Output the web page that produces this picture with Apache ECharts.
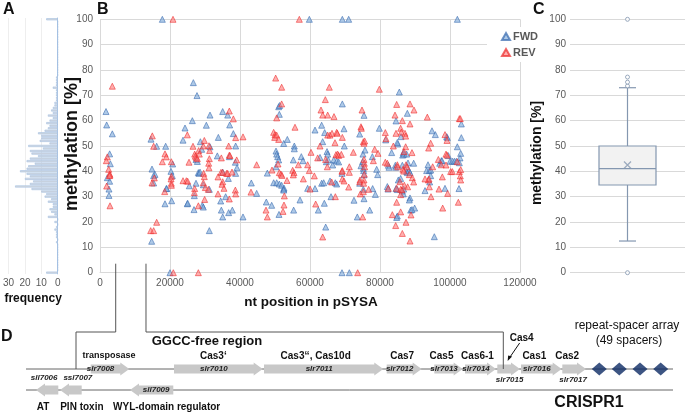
<!DOCTYPE html>
<html><head><meta charset="utf-8">
<script src="https://cdn.jsdelivr.net/npm/echarts/dist/echarts.min.js"></script>
<style>html,body{margin:0;padding:0;background:#fff}#c{width:685px;height:412px}</style>
</head><body><div id="c"></div>
<script>
// ---------- DATA ----------
// Panel A: histogram of methylation (1% bins, 0..100)
const histBins = Array.from({length:101},(_,i)=>String(i));
const histCounts = [7,0,0,0,0,0,0,0,0,0,0,0,1,0,1,1,1,2,1,0,2,0,6,2,4,5,3,3,6,4,8,7,10,16,26,17,15,20,17,19,23,19,18,14,19,17,12,16,17,9,18,5,11,10,10,12,8,6,5,7,5,3,6,3,4,3,2,2,1,1,1,1,1,3,1,1,1,1,0,0,0,0,0,0,0,0,0,0,0,0,0,0,0,0,0,0,0,0,0,0,7];
const histTicks = [0,10,20,30];

// Panel B: methylation per position [nt, %]
const fwdPoints = [[17810,100],[59810,100],[69240,100],[71050,100],[102100,100],[20000,0],[69140,0],[71240,0],
[1714,63.6],[1900,58.3],[3520,54.8],[2760,46.9],[2950,43.0],[2090,37.5],[2760,36.1],[2570,33.0],[2570,30.5],
[14570,52.7],[16190,49.9],[18760,49.9],[14860,40.9],[15710,38.8],[15330,38.3],[15330,35.4],[18570,27.2],[18950,33.2],[14760,12.4],
[20760,42.9],[20280,40.0],[20660,38.3],[19050,33.2],[20470,28.4],
[26670,75.0],[27710,69.9],[26380,60.0],[24290,57.1],[23720,52.3],[28670,51.7],[28100,39.5],[25520,34.3],[26950,30.4],[24950,27.2],[26860,24.9],
[27430,44.7],[27810,43.9],[29050,48.7],[31430,49.7],[31430,62.2],[30380,58.2],[28290,39.2],[28570,39.7],[27430,35.3],[29520,34.7],[31240,32.9],[29240,26.6],[29520,25.9],[31240,16.6],[25050,27.4],
[33810,53.4],[35050,63.6],[36480,62.2],[37050,58.3],[38100,54.9],[38760,50.0],[36950,45.8],[33520,46.1],[38670,43.6],[39140,41.4],[35050,39.7],[38760,39.2],[36670,37.2],[35900,30.0],[34480,28.3],[34670,24.7],[37810,24.7],[36760,23.7],[35050,22.0],
[40860,22.0],[43240,35.4],[44760,31.3],[47520,27.9],[47810,39.3],[49050,26.6],[51050,65.5],[51330,66.0],[51240,62.5],[50290,48.0],[50480,46.8],[50760,45.8],[51050,44.5],[50290,41.8],[49620,35.5],[50480,35.5],[51240,35.0],[51900,34.5],[52480,33.0],[52570,33.4],[51140,23.0],[52480,51.0],[53520,52.6],[52480,32.6],
[55520,50.0],[55520,48.9],[55240,44.5],[55330,24.7],[57520,45.8],[58000,44.2],[57140,28.7],[59330,33.3],
[61430,56.3],[61430,33.2],[62380,24.7],[62860,45.5],[63330,58.2],[63620,51.7],[63330,35.3],[63910,35.5],[64190,55.3],[64090,27.4],[64480,18.0],[64860,47.8],[65050,46.8],[64670,43.8],[65240,44.5],[65720,36.2],[66000,30.0],[66480,42.5],[66760,44.5],[67240,35.5],[67620,35.0],[67620,44.1],[68190,43.7],[69240,66.6],[69140,39.2],[69710,56.8],[69810,50.0],[72570,28.6],[73520,22.0],[74190,54.7],[75430,62.1],[74200,35.3],[74570,42.2],[75050,43.9],[75140,46.8],[75710,48.4],[75240,41.2],[75330,40.3],[75430,38.6],[75240,32.9],[75430,29.2],[77050,24.7],[77900,33.2],[77810,45.8],[78670,30.9],[79050,40.8],[79330,38.7],[79810,57.0],
[85520,71.3],[84570,59.9],[87810,62.9],[86000,53.7],[81620,52.4],[85050,50.8],[84950,51.4],[83330,47.4],[86670,47.4],[86480,46.4],[86860,46.8],[87620,46.8],[82380,42.4],[82570,41.6],[84380,42.4],[84470,41.6],[86380,42.4],[88000,43.3],[87620,40.0],[87810,39.5],[88290,40.3],[88570,39.5],[89620,43.2],[85240,36.6],[85900,37.2],[84570,33.2],[84950,32.8],[82100,34.0],[82280,33.0],[86760,33.0],[86380,32.2],[86670,31.1],[88570,29.5],[88380,28.7],[89900,25.5],[88760,24.7],[89140,24.9],[84950,22.4],[84760,21.8],
[94860,56.0],[95810,54.5],[99050,53.7],[99240,53.3],[93710,42.6],[93330,40.3],[94100,40.3],[94480,40.5],[94190,35.8],[94480,38.3],[92860,32.4],[97050,43.2],[97520,44.2],[97710,44.2],[99520,46.2],[100000,44.0],[100670,44.0],[101240,44.0],[101810,44.0],[102090,49.7],[103240,58.7],[103240,53.3],[102860,45.3],[103050,47.1],[102670,43.4],[102570,33.2],[98570,33.3],[95520,14.2]];
const revPoints = [[20860,100],[56950,100],[20950,0],[28100,0],[73620,0],
[3520,73.6],[2090,45.7],[1810,44.2],[2480,40.8],[2760,39.0],[2860,38.5],[2670,38.3],[1900,34.2],[2860,26.4],
[14950,54.0],[15330,49.9],[18570,46.9],[18950,45.7],[17810,43.8],[14860,35.4],[15520,37.4],[18480,32.0],[16190,19.9],[14480,16.6],[15330,16.6],
[20380,43.8],[20400,38.0],[20300,37.0],[20380,35.3],[20400,34.5],
[24950,54.4],[26570,49.9],[25430,43.6],[27050,46.8],[27240,46.0],[27520,45.5],[27810,45.0],[28190,48.2],[28380,46.8],[29810,52.2],[29520,50.0],[31140,50.1],[31330,48.2],[31240,45.0],[31050,43.2],[31140,41.4],[29620,39.2],[29810,37.9],[27050,33.2],[26950,31.6],[29520,35.5],[30100,33.6],[30950,32.9],[28100,26.4],[29900,28.9],[24670,36.3],[25050,36.1],[23720,36.3],
[36950,63.8],[38100,60.7],[38760,53.3],[36760,50.0],[36950,46.4],[37140,46.2],[34670,45.3],[39050,44.5],[34570,39.6],[35050,39.6],[36190,39.2],[36480,39.2],[37710,39.7],[33710,37.8],[35050,35.9],[34860,34.9],[35430,33.3],[38670,32.6],[38760,31.1],[33710,31.1],[36950,29.1],
[40860,53.6],[44760,42.6],[43140,31.8],[47430,24.7],[47810,22.0],[49140,40.5],
[50190,76.8],[49620,55.4],[50000,54.5],[49910,53.4],[50480,54.3],[51050,52.6],[50480,61.1],[51900,66.6],[51900,73.2],[51240,39.5],[51710,38.9],[52000,38.4],[50860,42.9],[52290,24.2],[52570,26.7],[52670,30.3],[53430,36.4],
[55710,57.4],[55050,40.4],[55430,39.5],[55240,38.6],[56670,42.6],[58100,37.0],[59330,42.6],[59810,40.3],[60000,33.0],[60290,47.5],
[61620,27.1],[61240,38.2],[62190,45.3],[62860,50.0],[63140,64.2],[63620,62.2],[63620,14.1],[64380,68.3],[65050,62.2],[65520,73.2],[65050,54.3],[65710,54.3],[66290,55.0],[64470,44.7],[64950,41.8],[66190,35.8],[66860,61.6],[67140,51.3],[67240,30.0],[67430,46.6],[67910,46.8],[68190,46.3],[67620,55.4],[67810,55.0],[69240,53.4],[68950,46.7],[69240,40.3],[69140,40.0],[69240,37.0],[69710,36.2],[71240,41.8],[71240,39.6],[72380,47.5],[71050,33.8],[75050,22.0],[74570,57.6],[74670,57.0],[74860,64.2],[74300,36.6],[74200,35.9],[74380,31.1],[75240,51.7],[75430,51.1],[75620,52.0],[75430,44.7],[75520,43.2],[75620,41.8],[75520,38.9],[75430,36.6],[75330,35.3],[75240,32.0],[76760,32.9],[78480,48.7],[78100,44.2],[79430,47.1],[79810,72.4],
[84760,66.4],[88570,66.6],[89710,64.2],[84290,62.2],[86380,60.0],[88570,58.7],[85900,57.0],[86100,55.5],[87140,55.0],[87330,53.9],[81520,55.3],[81710,52.9],[84570,55.0],[83810,50.0],[87330,49.7],[86860,47.8],[89140,47.4],[81520,43.6],[82100,43.2],[84950,42.6],[85050,41.8],[87430,42.6],[87710,41.8],[86570,40.8],[86760,40.1],[88380,38.7],[89240,37.5],[89620,35.8],[85710,35.9],[84760,33.3],[82380,33.3],[85900,32.9],[86290,32.7],[86950,34.5],[87900,33.9],[85900,30.8],[84760,27.8],[83520,22.9],[85900,24.0],[88860,22.8],[84480,18.6],[86380,15.5],[87430,19.9],[88570,12.5],
[93520,61.4],[93900,49.2],[94480,51.1],[98570,54.5],[99140,52.2],[93810,36.6],[94000,37.0],[92860,37.0],[95050,41.8],[94100,33.9],[94570,30.0],[96670,44.7],[97520,42.6],[98860,46.8],[99140,46.4],[98860,42.5],[102090,43.8],[100190,39.9],[100670,39.9],[102670,39.9],[102670,60.8],[102950,60.8],[103050,40.7],[102950,38.2],[103050,36.6],[102380,27.8],[99330,31.3],[96860,33.0],[97810,37.8],[97910,25.5]];
const seriesNames = ['FWD','REV'];
const ggccRegionNt = [4490, 13140];

// Panel C: box plot summary [min, Q1, median, Q3, max], mean, outliers
const boxStats = [12.5, 34.6, 41.1, 50.0, 73.0];
const boxMean = 42.5;
const boxOutliers = [0, 73.7, 75.2, 77.2, 100];

// Panel D: gene map (map units along the locus)
const geneIds   = ['sll7006','ssl7007','slr7008','sll7009','slr7010','slr7011','slr7012','slr7013','slr7014','slr7015','slr7016','slr7017'];
const geneStart = [36,60,90.7,130,174,264,386.7,434.3,465,497.3,521,562.3];
const geneEnd   = [58.3,81.7,129.3,173.3,262.7,383.3,421.7,462.7,496,520,561.7,586];
const geneStrand= [-1,-1,1,-1,1,1,1,1,1,1,1,1];
const geneFunction = ['AT','PIN toxin','transposase','WYL-domain regulator','Cas3\u2018','Cas3\u2018\u2018, Cas10d','Cas7','Cas5','Cas6-1','Cas4','Cas1','Cas2'];
const spacerRepeats = [599.3,619.3,640,660.7];
const locusExtent = [26, 673];
const ggccRegionMap = [76, 503.3];

// ---------- STYLE (kept apart from data) ----------
const idLabelPlace = ['above','above','inside','inside','inside','inside','inside','inside','inside','below','inside','below'];
const idLabelDx    = [-3,7,-5,0,0,0,0,0,0,1,0,-1];
const fnLabelDx    = [-4,11,-1,15,-5,-8,-2,-7,-3,0,-7,-7];
const fnLabelSize  = [10,10,9,10,10,10,10,10,10,10,10,10];
const FONT = "'Liberation Sans', Arial, sans-serif";
const GRID = '#d9d9d9';
const LBL = '#595959';

const chart = echarts.init(document.getElementById('c'), null, {renderer:'canvas'});

function geneItem(params, api){
  const i = params.dataIndex;
  const s = api.value(0), e = api.value(1), strand = api.value(2);
  const row = strand > 0 ? 1 : 0;
  const p1 = api.coord([s,row]), p2 = api.coord([e,row]);
  const cy = p1[1];
  const bh = 4.5, hh = 6.5;
  const hl = Math.min(9, (p2[0]-p1[0])*0.45);
  let pts, bodyC;
  if (strand > 0){
    pts = [[p1[0],cy-bh],[p2[0]-hl,cy-bh],[p2[0]-hl,cy-hh],[p2[0],cy],[p2[0]-hl,cy+hh],[p2[0]-hl,cy+bh],[p1[0],cy+bh]];
    bodyC = (p1[0]+p2[0]-hl)/2;
  } else {
    pts = [[p2[0],cy-bh],[p1[0]+hl,cy-bh],[p1[0]+hl,cy-hh],[p1[0],cy],[p1[0]+hl,cy+hh],[p1[0]+hl,cy+bh],[p2[0],cy+bh]];
    bodyC = (p1[0]+hl+p2[0])/2;
  }
  const mid = (p1[0]+p2[0])/2;
  const children = [{type:'polygon', shape:{points:pts}, style:{fill:'#c8c8c8'}}];
  const place = idLabelPlace[i];
  let ix = (place==='inside'? bodyC : mid) + idLabelDx[i];
  let iy = place==='inside' ? cy : (place==='above' ? cy-12 : cy+11);
  children.push({type:'text', style:{text:geneIds[i], x:ix, y:iy, align:'center', verticalAlign:'middle',
    font:"italic bold 8px "+FONT, fill:'#222'}});
  const fn = geneFunction[i];
  if (fn === 'Cas4'){
    children.push({type:'text', style:{text:fn, x:mid+13, y:cy-31, align:'center', verticalAlign:'middle', font:"bold 10px "+FONT, fill:'#111'}});
    children.push({type:'line', shape:{x1:mid+11, y1:cy-26, x2:mid, y2:cy-10}, style:{stroke:'#111', lineWidth:1}});
    children.push({type:'polygon', shape:{points:[[mid-1,cy-8],[mid+3.5,cy-12.5],[mid-0.5,cy-13.5]]}, style:{fill:'#111'}});
  } else {
    const fy = strand>0 ? cy-13 : cy+17;
    children.push({type:'text', style:{text:fn, x:mid+fnLabelDx[i], y:fy, align:'center', verticalAlign:'middle', font:"bold "+fnLabelSize[i]+"px "+FONT, fill:'#111'}});
  }
  return {type:'group', children};
}

function strandItem(params, api){
  const a = api.coord([api.value(0), api.value(2)]), b = api.coord([api.value(1), api.value(2)]);
  return {type:'line', shape:{x1:a[0], y1:a[1], x2:b[0], y2:b[1]}, style:{stroke:'#666', lineWidth:1}};
}

function boxItem(params, api){
  const c = api.coord([0, boxStats[2]]);
  const cx = c[0];
  const y = v => api.coord([0,v])[1];
  const hw = 28.5, cw = 8.5;
  const col = '#8497b0';
  return {type:'group', children:[
    {type:'line', shape:{x1:cx,y1:y(boxStats[0]),x2:cx,y2:y(boxStats[1])}, style:{stroke:col,lineWidth:1.2}},
    {type:'line', shape:{x1:cx,y1:y(boxStats[3]),x2:cx,y2:y(boxStats[4])}, style:{stroke:col,lineWidth:1.2}},
    {type:'line', shape:{x1:cx-cw,y1:y(boxStats[0]),x2:cx+cw,y2:y(boxStats[0])}, style:{stroke:col,lineWidth:1.2}},
    {type:'line', shape:{x1:cx-cw,y1:y(boxStats[4]),x2:cx+cw,y2:y(boxStats[4])}, style:{stroke:col,lineWidth:1.2}},
    {type:'rect', shape:{x:cx-hw,y:y(boxStats[3]),width:2*hw,height:y(boxStats[1])-y(boxStats[3])}, style:{fill:'#f2f2f2',stroke:col,lineWidth:1.2}},
    {type:'line', shape:{x1:cx-hw,y1:y(boxStats[2]),x2:cx+hw,y2:y(boxStats[2])}, style:{stroke:col,lineWidth:1.2}}
  ]};
}

const axisLabelStyle = {color:LBL, fontSize:10, fontFamily:FONT};
const plainNum = v => String(v);

const option = {
  animation:false,
  textStyle:{fontFamily:FONT},
  grid:[
    {left:5, width:52.7, top:18, height:255.9},
    {left:100, right:165, top:19.3, bottom:139.3},
    {left:570, right:0, top:19.3, bottom:139.3},
    {left:0, right:0, top:369, height:21}
  ],
  xAxis:[
    {gridIndex:0, type:'value', inverse:true, min:0, max:30, interval:10,
     axisLine:{show:false}, axisTick:{show:false},
     axisLabel:Object.assign({margin:4, formatter:plainNum},axisLabelStyle),
     splitLine:{lineStyle:{color:'#eeeeee'}},
     name:'frequency', nameLocation:'middle', nameGap:15,
     nameTextStyle:{fontWeight:'bold', fontSize:12, color:'#111', fontFamily:FONT}},
    {gridIndex:1, type:'value', min:0, max:120000, interval:20000,
     axisLine:{show:true, lineStyle:{color:GRID}}, axisTick:{show:false},
     axisLabel:Object.assign({margin:6, formatter:plainNum},axisLabelStyle),
     splitLine:{lineStyle:{color:GRID}}},
    {gridIndex:2, type:'category', data:[''], axisLine:{show:false}, axisTick:{show:false}, axisLabel:{show:false}},
    {gridIndex:3, type:'value', min:0, max:685, show:false}
  ],
  yAxis:[
    {gridIndex:0, type:'category', data:histBins, position:'right',
     axisLine:{show:true, lineStyle:{color:'#a9c4e4'}}, axisTick:{show:false}, axisLabel:{show:false}},
    {gridIndex:1, type:'value', min:0, max:100, interval:10,
     axisLine:{show:false}, axisTick:{show:false},
     axisLabel:Object.assign({margin:7},axisLabelStyle),
     splitLine:{lineStyle:{color:GRID}}},
    {gridIndex:2, type:'value', min:0, max:100, interval:10,
     axisLine:{show:false}, axisTick:{show:false},
     axisLabel:Object.assign({margin:4},axisLabelStyle),
     splitLine:{lineStyle:{color:GRID}}},
    {gridIndex:3, type:'value', min:0, max:1, show:false}
  ],
  legend:{
    data:seriesNames, orient:'vertical', left:487, top:27,
    padding:[4,4,4,14], itemGap:5, itemWidth:8, itemHeight:7,
    backgroundColor:'#ffffff',
    textStyle:{fontWeight:'bold', fontSize:11, color:LBL, fontFamily:FONT, padding:[0,0,0,-2]}
  },
  series:[
    {type:'bar', xAxisIndex:0, yAxisIndex:0, data:histCounts, barCategoryGap:'18%',
     itemStyle:{color:'#d5d9df', borderColor:'#a3c0e3', borderWidth:0.6}, silent:true},
    {name:seriesNames[0], type:'scatter', xAxisIndex:1, yAxisIndex:1, data:fwdPoints,
     symbol:'triangle', symbolSize:6,
     itemStyle:{color:'rgba(120,165,215,0.75)', borderColor:'rgba(55,105,175,0.9)', borderWidth:0.8}},
    {name:seriesNames[1], type:'scatter', xAxisIndex:1, yAxisIndex:1, data:revPoints,
     symbol:'triangle', symbolSize:6,
     itemStyle:{color:'rgba(255,110,110,0.7)', borderColor:'rgba(235,35,35,0.85)', borderWidth:0.8}},
    {type:'custom', xAxisIndex:2, yAxisIndex:2, data:[[0, boxStats[2]]], renderItem:boxItem, silent:true},
    {type:'scatter', xAxisIndex:2, yAxisIndex:2, data:boxOutliers.map(v=>[0,v]),
     symbol:'circle', symbolSize:4, itemStyle:{color:'#fff', borderColor:'#8497b0', borderWidth:1}, silent:true},
    {type:'scatter', xAxisIndex:2, yAxisIndex:2, data:[[0,boxMean]],
     symbol:'path://M0,0L10,10M10,0L0,10', symbolSize:7,
     itemStyle:{color:'none', borderColor:'#8497b0', borderWidth:1.2}, silent:true},
    {type:'custom', xAxisIndex:3, yAxisIndex:3, data:[[locusExtent[0],locusExtent[1],1],[locusExtent[0],locusExtent[1],0]], renderItem:strandItem, silent:true, z:1},
    {type:'custom', xAxisIndex:3, yAxisIndex:3, data:geneIds.map((g,i)=>[geneStart[i],geneEnd[i],geneStrand[i]]), renderItem:geneItem, silent:true, z:3},
    {type:'scatter', xAxisIndex:3, yAxisIndex:3, data:spacerRepeats.map(v=>[v,1]),
     symbol:'diamond', symbolSize:[15,13], itemStyle:{color:'#0c2a64'}, silent:true, z:4}
  ]
};
chart.setOption(option);

// annotation: GGCC-free region connectors and titles
const yZero = chart.convertToPixel({yAxisIndex:1}, 0);
const rowTop = chart.convertToPixel({yAxisIndex:3}, 1);
const xa = ggccRegionNt.map(v=>chart.convertToPixel({xAxisIndex:1}, v));
const xm = ggccRegionMap.map(v=>chart.convertToPixel({xAxisIndex:3}, v));
const yTop = yZero - 9, yMid = rowTop - 37;
const stroke = {stroke:'#555', lineWidth:1, fill:null};
chart.setOption({graphic:[
  {type:'polyline', shape:{points:[[xa[0],yTop],[xa[0],yMid],[xm[0],yMid],[xm[0],rowTop]]}, style:stroke, z:10},
  {type:'polyline', shape:{points:[[xa[1],yTop],[xa[1],yMid],[xm[1],yMid],[xm[1],rowTop]]}, style:stroke, z:10},
  {type:'text', left:3, top:2, style:{text:'A', font:'bold 16px '+FONT, fill:'#111'}},
  {type:'text', left:97, top:2, style:{text:'B', font:'bold 16px '+FONT, fill:'#111'}},
  {type:'text', left:533, top:2, style:{text:'C', font:'bold 16px '+FONT, fill:'#111'}},
  {type:'text', left:1, top:329, style:{text:'D', font:'bold 16px '+FONT, fill:'#111'}},
  {type:'text', x:72, y:144, rotation:Math.PI/2, style:{text:'methylation [%]', align:'center', verticalAlign:'middle', font:'bold 18px '+FONT, fill:'#111'}},
  {type:'text', x:537, y:153, rotation:Math.PI/2, style:{text:'methylation [%]', align:'center', verticalAlign:'middle', font:'bold 14px '+FONT, fill:'#111'}},
  {type:'text', x:311, y:302, style:{text:'nt position in pSYSA', align:'center', verticalAlign:'middle', font:'bold 13.5px '+FONT, fill:'#111'}},
  {type:'text', x:207, y:341, style:{text:'GGCC-free region', align:'center', verticalAlign:'middle', font:'bold 13px '+FONT, fill:'#111'}},
  {type:'text', x:627, y:326, style:{text:'repeat-spacer array', align:'center', verticalAlign:'middle', font:'12px '+FONT, fill:'#111'}},
  {type:'text', x:629, y:341, style:{text:'(49 spacers)', align:'center', verticalAlign:'middle', font:'12px '+FONT, fill:'#111'}},
  {type:'text', x:589, y:403, style:{text:'CRISPR1', align:'center', verticalAlign:'middle', font:'bold 16px '+FONT, fill:'#111'}}
]});
</script></body></html>
